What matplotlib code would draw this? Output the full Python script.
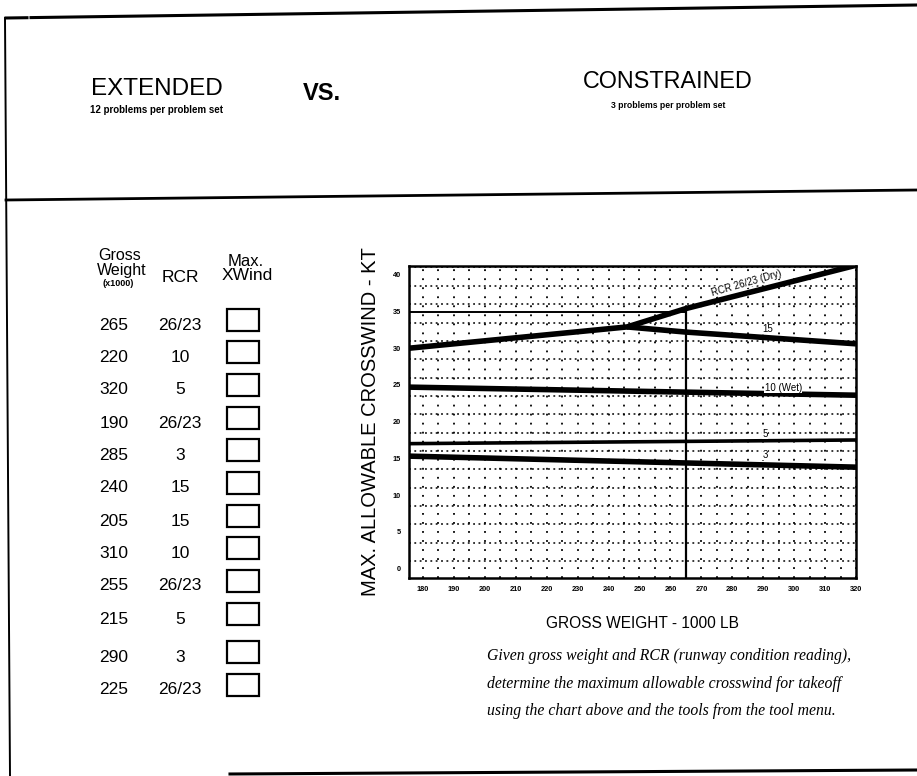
import matplotlib
matplotlib.use("Agg")
import matplotlib.pyplot as plt
from matplotlib.patches import Rectangle

# ---------------- data ----------------
gross_weights = ["265", "220", "320", "190", "285", "240", "205", "310", "255", "215", "290", "225"]
rcr_values = ["26/23", "10", "5", "26/23", "3", "15", "15", "10", "26/23", "5", "3", "26/23"]

dry_x = [175.5, 246, 265, 320]
dry_y = [30.0, 32.9, 35.4, 41.3]
rcr15_x = [246, 265, 320]
rcr15_y = [32.9, 32.2, 30.6]
wet_x = [175.5, 320]
wet_y = [24.7, 23.6]
rcr5_x = [175.5, 320]
rcr5_y = [17.0, 17.5]
rcr3_x = [175.5, 320]
rcr3_y = [15.3, 13.8]

example_weight = 265
example_wind = 35

x_ticks = [180, 190, 200, 210, 220, 230, 240, 250, 260, 270, 280, 290, 300, 310, 320]
y_ticks = [0, 5, 10, 15, 20, 25, 30, 35, 40]

# ---------------- figure ----------------
W, H = 917, 776
fig = plt.figure(figsize=(W / 100, H / 100), dpi=100)
fig.patch.set_facecolor("white")

bg = fig.add_axes([0, 0, 1, 1])
bg.set_xlim(0, W)
bg.set_ylim(H, 0)
bg.axis("off")

sans = ["Liberation Sans", "DejaVu Sans"]
serif = ["Liberation Serif", "DejaVu Serif"]

# page frame
bg.plot([6, 27], [18, 17.7], color="black", lw=2.2)
bg.plot([31, 917], [17.6, 5], color="black", lw=2.2)
bg.plot([5, 10], [18, 776], color="black", lw=1.4)
bg.plot([6, 917], [200, 190], color="black", lw=2.0)
bg.plot([230, 917], [774, 770], color="black", lw=2.2)

# header
bg.text(157, 89, "EXTENDED", family=sans, fontsize=17.5, ha="center", va="center")
bg.text(156, 110, "12 problems per problem set", family=sans, fontsize=7, ha="center",
        va="center", fontweight="bold")
bg.text(322, 93, "VS.", family=sans, fontsize=17, ha="center", va="center", fontweight="bold")
bg.text(668, 82, "CONSTRAINED", family=sans, fontsize=16.8, ha="center", va="center")
bg.text(668, 105, "3 problems per problem set", family=sans, fontsize=6.2, ha="center",
        va="center", fontweight="bold")

# left table headers
bg.text(120, 256, "Gross", family=sans, fontsize=11.5, ha="center", va="center")
bg.text(122, 270, "Weight", family=sans, fontsize=11.5, ha="center", va="center")
bg.text(118, 284, "(x1000)", family=sans, fontsize=6.5, ha="center", va="center", fontweight="bold")
bg.text(180, 278, "RCR", family=sans, fontsize=12.5, ha="center", va="center")
bg.text(246, 261, "Max.", family=sans, fontsize=12, ha="center", va="center")
bg.text(247, 276, "XWind", family=sans, fontsize=12.5, ha="center", va="center")

row_y = [325, 357, 390, 423, 455, 488, 521, 553, 586, 619, 657, 690]
for gw, rcr, yy in zip(gross_weights, rcr_values, row_y):
    bg.text(114, yy, gw, family=sans, fontsize=12.5, ha="center", va="center")
    bg.text(180, yy, rcr, family=sans, fontsize=12.5, ha="center", va="center")
    bg.add_patch(Rectangle((227, yy - 16), 32, 22, fill=False, edgecolor="black", lw=1.6))

# ---------------- chart ----------------
ax = fig.add_axes([409 / W, 1 - 578 / H, (856 - 409) / W, (578 - 266) / H])
ax.set_xlim(175.5, 320)
ax.set_ylim(-1.3, 41.2)

# dotted grid
for gx in range(180, 321, 5):
    ax.axvline(gx, color="black", lw=1.3, ls=(0, (1, 4)), zorder=1)
yv = 0.0
while yv <= 41:
    ax.axhline(yv + 1.0, color="black", lw=1.1, ls=(0, (1.2, 2.3)), zorder=1)
    yv += 2.5

lw_main = 4.0
ax.plot(dry_x, dry_y, color="black", lw=lw_main, solid_capstyle="butt", zorder=3)
ax.plot(rcr15_x, rcr15_y, color="black", lw=lw_main, solid_capstyle="butt", zorder=3)
ax.plot(wet_x, wet_y, color="black", lw=lw_main, solid_capstyle="butt", zorder=3)
ax.plot(rcr5_x, rcr5_y, color="black", lw=2.6, solid_capstyle="butt", zorder=3)
ax.plot(rcr3_x, rcr3_y, color="black", lw=lw_main, solid_capstyle="butt", zorder=3)

# example construction lines
ax.plot([175.5, example_weight], [example_wind, example_wind], color="black", lw=1.4, zorder=2)
ax.plot([example_weight, example_weight], [-1.3, example_wind + 0.6], color="black", lw=1.6, zorder=2)

# line labels
lab_kw = dict(family=sans, fontsize=7, ha="center", va="center", zorder=4,
              bbox=dict(facecolor="white", edgecolor="none", pad=0.2))
ax.text(284.5, 38.9, "RCR 26/23 (Dry)", rotation=16, **lab_kw)
ax.text(291.5, 32.6, "15", **lab_kw)
ax.text(296.5, 24.6, "10 (Wet)", **lab_kw)
ax.text(290.7, 18.3, "5", **lab_kw)
ax.text(290.7, 15.5, "3", **lab_kw)

ax.set_xticks(x_ticks)
ax.set_yticks(y_ticks)
ax.set_xticklabels([str(v) for v in x_ticks], family=sans, fontsize=5.3, fontweight="bold")
ax.set_yticklabels([str(v) for v in y_ticks], family=sans, fontsize=5.3, fontweight="bold")
ax.tick_params(length=0, pad=6)
for s in ax.spines.values():
    s.set_linewidth(1.8)

# axis labels
bg.text(370, 422, "MAX. ALLOWABLE CROSSWIND - KT", family=sans, fontsize=14.5,
        rotation=90, ha="center", va="center")
bg.text(643, 623, "GROSS WEIGHT - 1000 LB", family=sans, fontsize=11.2, ha="center", va="center")

notes = ["Given gross weight and RCR (runway condition reading),",
         "determine the maximum allowable crosswind for takeoff",
         "using the chart above and the tools from the tool menu."]
for i, line in enumerate(notes):
    bg.text(487, 656 + i * 27.5, line, family=serif, style="italic", fontsize=11.3,
            ha="left", va="center")

fig.savefig("out.png", dpi=100, facecolor="white")
